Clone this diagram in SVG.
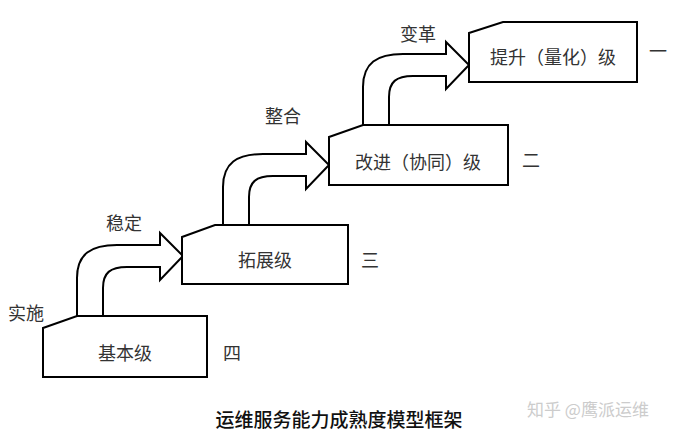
<svg xmlns="http://www.w3.org/2000/svg" width="679" height="437" viewBox="0 0 679 437">
<style>
.box{fill:#fff;stroke:#000;stroke-width:2;stroke-linejoin:miter}
.arr{fill:#fff;stroke:#000;stroke-width:2;stroke-linejoin:miter}
.t{font-family:"Noto Sans CJK SC","Noto Sans",sans-serif;font-size:18px;fill:#333;text-anchor:middle;dominant-baseline:central}
.cap{font-family:"Noto Sans CJK SC","Noto Sans",sans-serif;font-size:19px;font-weight:500;fill:#111;text-anchor:middle;dominant-baseline:central}
.wm{font-family:"Noto Sans CJK SC","Noto Sans",sans-serif;font-size:17px;fill:#ccc;text-anchor:middle;dominant-baseline:central}
</style>
<defs>
<path id="arrow" class="arr" d="M0,0 L0,-38 C0,-62 14,-71 40,-71 L83,-71 L83,-83 L106,-60 L83,-36 L83,-49 L50,-49 C33,-49 26,-43 26,-28 L26,0"/>
</defs>
<rect width="679" height="437" fill="#fff"/>
<g id="connectors">
<use href="#arrow" transform="translate(77,316)"/>
<use href="#arrow" transform="translate(223,225)"/>
<use href="#arrow" transform="translate(363,125)"/>
<text class="t" x="26" y="312">实施</text>
<text class="t" x="124" y="222">稳定</text>
<text class="t" x="283" y="115">整合</text>
<text class="t" x="418" y="33">变革</text>
</g>
<g id="node-basic">
<polygon class="box" points="43,328 77,316 207,316 207,377 43,377"/>
<text class="t" x="125" y="352">基本级</text>
<text class="t" x="232" y="352">四</text>
</g>
<g id="node-expand">
<polygon class="box" points="182,237 215,225 348,225 348,284 182,284"/>
<text class="t" x="265" y="259">拓展级</text>
<text class="t" x="370" y="259">三</text>
</g>
<g id="node-improve">
<polygon class="box" points="329,137 363,125 508,125 508,185 329,185"/>
<text class="t" x="418" y="161">改进（协同）级</text>
<text class="t" x="531" y="159">二</text>
</g>
<g id="node-promote">
<polygon class="box" points="469,33 503,22 637,22 637,82 469,82"/>
<text class="t" x="553" y="56">提升（量化）级</text>
<text class="t" x="658" y="50">一</text>
</g>
<g id="caption">
<text class="cap" x="339" y="418">运维服务能力成熟度模型框架</text>
<text class="wm" x="588" y="408">知乎 @鹰派运维</text>
</g>
</svg>
